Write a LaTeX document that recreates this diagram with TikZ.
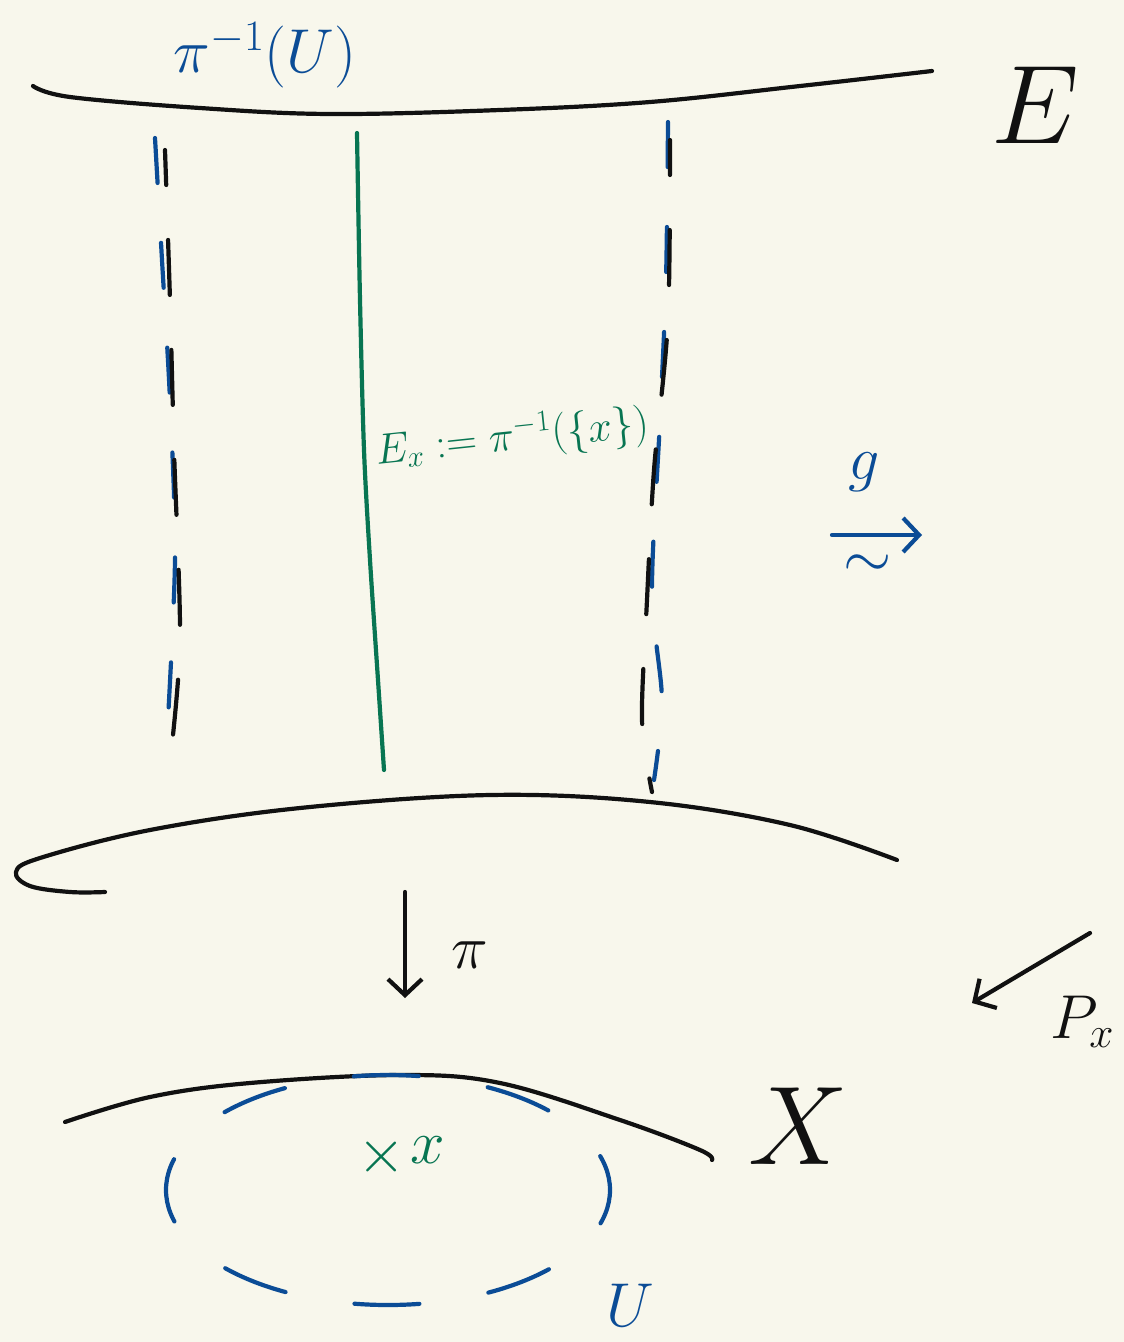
\RequirePackage{fix-cm}
\documentclass[tikz,border=0pt]{standalone}
\usetikzlibrary{arrows.meta}
\definecolor{paper}{HTML}{F8F7EC}
\definecolor{penblue}{HTML}{0B4C96}
\definecolor{pengreen}{HTML}{087552}
\definecolor{penblack}{HTML}{111111}

\begin{document}
\begin{tikzpicture}[
  x=1pt, y=-1pt,
  stroke/.style={line width=4.2pt, line cap=round, line join=round},
  ink/.style={stroke, draw=penblack},
  blueink/.style={stroke, draw=penblue},
  greenink/.style={stroke, draw=pengreen},
  bluefibre/.style={blueink, dash pattern=on 45pt off 60pt},
  blackfibre/.style={ink, dash pattern=on 55pt off 55pt, dash phase=20pt},
  barb/.style={-{Straight Barb[length=16pt,width=34pt,line width=4.2pt]}},
  bigtext/.style={inner sep=0pt, font=\fontsize{112}{120}\selectfont},
  midtext/.style={inner sep=0pt, font=\fontsize{62}{68}\selectfont},
  smalltext/.style={inner sep=0pt, font=\fontsize{43}{48}\selectfont}
]
\fill[paper] (0,0) rectangle (1124,1342);
\useasboundingbox (0,0) rectangle (1124,1342);

% total space E: top and bottom edges of the sheet
\draw[ink] plot[smooth, tension=.6] coordinates {(33,86) (70,97) (200,108)
  (330,114) (500,110) (650,102) (800,86) (932,71)};
\draw[ink] plot[smooth, tension=.6] coordinates {(105,892) (70,892) (30,886)
  (16,872) (40,858) (150,830) (300,808) (490,795) (650,802) (790,825) (897,860)};
\node[bigtext, text=penblack] (E) at (1035,105) {$E$};

% the tube over U
\node[midtext, text=penblue] (preimage) at (265,55) {$\pi^{-1}(U)$};
\draw[bluefibre] plot[smooth] coordinates {(155,138) (162,260) (170,400)
  (175,560) (166,755)};
\draw[blackfibre] plot[smooth] coordinates {(165,150) (170,300) (174,450)
  (180,640) (170,762)};
\draw[bluefibre] plot[smooth] coordinates {(668,122) (666,280) (660,420)
  (652,590) (662,700) (654,780)};
\draw[blackfibre] plot[smooth] coordinates {(670,140) (668,320) (654,470)
  (647,600) (642,720) (652,792)};

% the fibre over x
\draw[greenink] plot[smooth] coordinates {(357,133) (360,300) (364,450)
  (370,560) (378,680) (384,770)};
\node[smalltext, text=pengreen, rotate=6] (fibre) at (512,438)
  {$E_x := \pi^{-1}(\{x\})$};

% fibre identification
\coordinate (g-from) at (832,535);
\coordinate (g-to) at (922,535);
\draw[blueink, barb] (g-from) -- (g-to);
\node[midtext, text=penblue] (g) at (864,472) {$g$};
\node[midtext, text=penblue] (iso) at (868,566) {$\sim$};

% projection onto the base
\coordinate (pi-top) at (405,892);
\coordinate (pi-bot) at (405,998);
\draw[ink, barb] (pi-top) -- (pi-bot);
\node[midtext, text=penblack] (pi) at (470,955) {$\pi$};

\coordinate (px-from) at (1090,933);
\coordinate (px-to) at (972,1003);
\draw[ink, barb] (px-from) -- (px-to);
\node[midtext, text=penblack, anchor=west] (px) at (1050,1022) {$P_x$};

% base space X with the open set U
\draw[ink] plot[smooth, tension=.6] coordinates {(65,1122) (150,1097) (250,1083)
  (400,1075) (500,1083) (620,1120) (700,1150) (712,1160)};
\node[bigtext, text=penblack] (X) at (798,1126) {$X$};
\draw[blueink, dash pattern=on 65pt off 70pt, dash phase=30pt]
  (388,1190) ellipse [x radius=222, y radius=115];
\node[midtext, text=penblue] (U) at (630,1305) {$U$};
\node[midtext, text=pengreen] (point) at (382,1157) {$\times$};
\node[midtext, text=pengreen] (x) at (428,1150) {$x$};
\end{tikzpicture}
\end{document}
